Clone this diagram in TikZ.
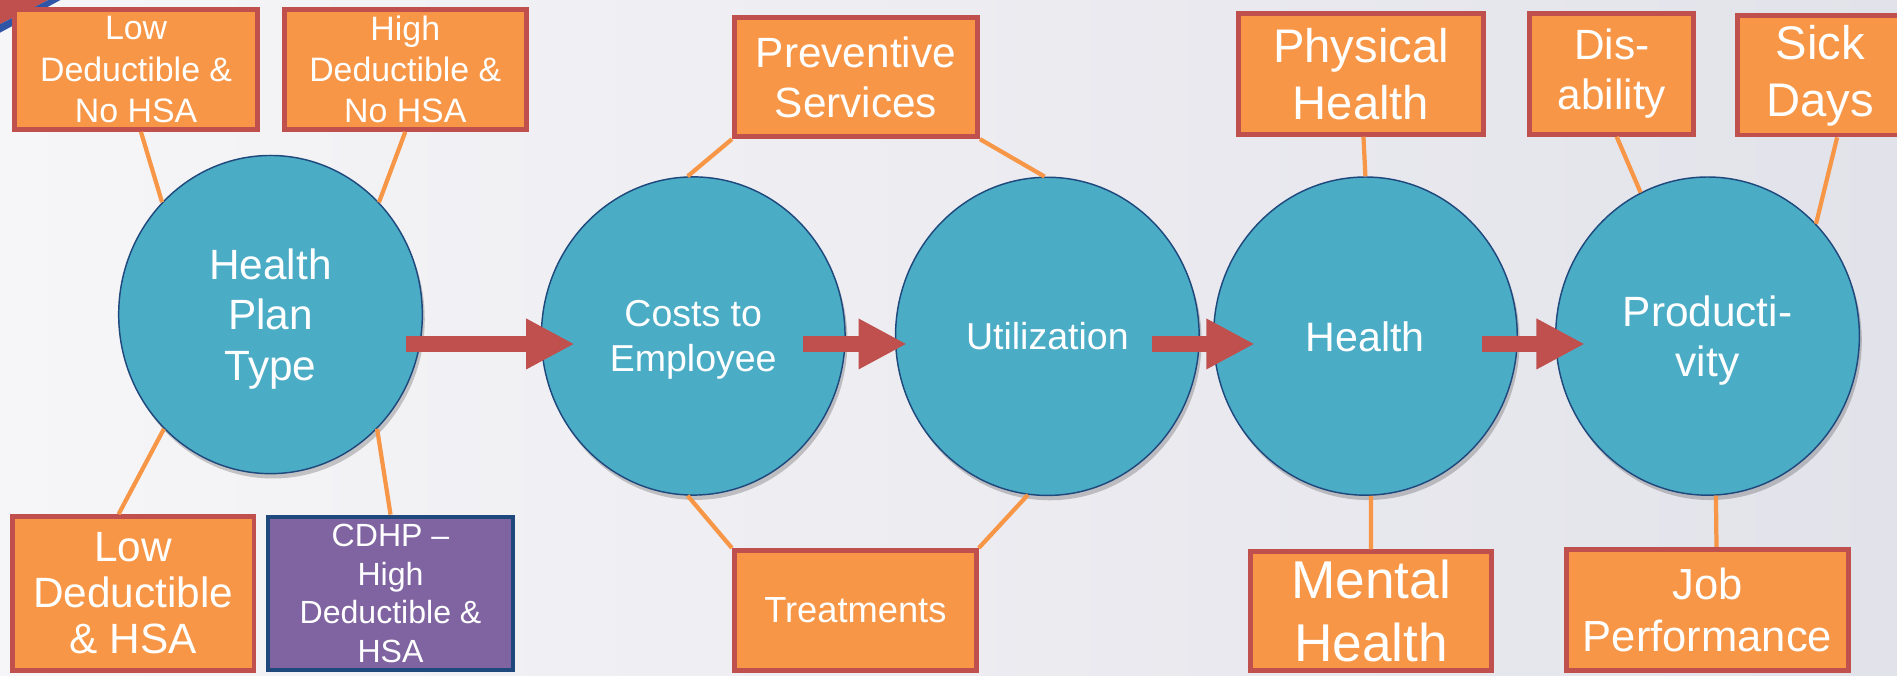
\documentclass[tikz,border=0pt]{standalone}
\usepackage{fontspec}
\setmainfont{Liberation Sans}
\usetikzlibrary{shapes.geometric,arrows.meta,shadows,calc}

\definecolor{aqua}{HTML}{4BACC6}
\definecolor{navy}{HTML}{1F497D}
\definecolor{tang}{HTML}{F79646}
\definecolor{brick}{HTML}{C0504D}
\definecolor{plum}{HTML}{8064A2}
\definecolor{ribbon}{HTML}{2F56A6}
\definecolor{bgleft}{HTML}{F6F6F8}
\definecolor{bgright}{HTML}{E2E2EA}

\begin{document}
\begin{tikzpicture}
    [
      x=1pt, y=-1pt,
      stage/.style={ellipse, draw=navy, line width=1.2pt, fill=aqua, text=white,
        minimum width=251pt, minimum height=263pt, inner sep=0pt, align=center, text depth=0pt,
        drop shadow={shadow xshift=2pt, shadow yshift=-4pt, opacity=.2, fill=black}},
      factor/.style={rectangle, draw=brick, line width=4pt, fill=tang, text=white,
        inner sep=0pt, align=center},
      link/.style={draw=tang, line width=3.5pt},
      bigarrow/.style={draw=brick, line width=13pt, -{Triangle[length=40pt,width=39pt]}},
    ]
    %
    \clip (0,0) rectangle (1568,558);
    \shade [left color=bgleft, right color=bgright] (0,0) rectangle (1568,558);
    \fill [brick] (0,0) -- (40,0) -- (0,20) -- cycle;
    \fill [ribbon] (0,20) -- (40,0) -- (50,0) -- (0,27) -- cycle;

    % stages
    \node [stage, font={\fontsize{35}{42}\selectfont}] (plan) at (223.6,260) {Health\\Plan\\Type};
    \node [stage, font={\fontsize{31}{37}\selectfont}] (cost) at (573,277.7) {Costs to\\Employee};
    \node [stage, font={\fontsize{31}{37}\selectfont}] (util) at (865.7,278) {Utilization};
    \node [stage, font={\fontsize{34}{41}\selectfont}] (hlth) at (1128.6,277.8) {Health};
    \node [stage, font={\fontsize{35}{41}\selectfont}] (prod) at (1411.4,277.8) {Producti-\\vity};

    % factors
    \node [factor, minimum width=201, minimum height=99, font={\fontsize{28}{34}\selectfont}]
      (lnh) at (112.5,57.5) {Low\\Deductible \&\\No HSA};
    \node [factor, minimum width=200, minimum height=99, font={\fontsize{28}{34}\selectfont}]
      (hnh) at (335,57.5) {High\\Deductible \&\\No HSA};
    \node [factor, minimum width=200, minimum height=127, font={\fontsize{35}{38}\selectfont}]
      (lh) at (110,490.5) {Low\\Deductible\\\& HSA};
    \node [factor, draw=navy, fill=plum, line width=3.3pt, minimum width=202, minimum height=127,
      font={\fontsize{26.5}{32}\selectfont}]
      (cdhp) at (322.8,490.5) {CDHP –\\High\\Deductible \&\\HSA};
    \node [factor, minimum width=201, minimum height=98.5, font={\fontsize{35}{41}\selectfont}]
      (prev) at (707.5,63.75) {Preventive\\Services};
    \node [factor, minimum width=200, minimum height=99, font={\fontsize{30}{36}\selectfont}]
      (trt) at (707,504.5) {Treatments};
    \node [factor, minimum width=202, minimum height=100, font={\fontsize{39}{47}\selectfont}]
      (phys) at (1125,61) {Physical\\Health};
    \node [factor, minimum width=199.5, minimum height=98, font={\fontsize{44}{52}\selectfont}]
      (ment) at (1133.3,505) {Mental\\Health};
    \node [factor, minimum width=135.5, minimum height=100, font={\fontsize{35}{41}\selectfont}]
      (dis) at (1332.3,61) {Dis-\\ability};
    \node [factor, minimum width=137, minimum height=98.5, font={\fontsize{39}{47}\selectfont}]
      (sick) at (1504.5,62.3) {Sick\\Days};
    \node [factor, minimum width=233.5, minimum height=100, font={\fontsize{36}{43}\selectfont}]
      (job) at (1411.3,504) {Job\\Performance};

    % links
    \draw [link] ([xshift=4]lnh.south) -- (plan.134);
    \draw [link] (hnh.south) -- (plan.46);
    \draw [link] ([xshift=-12]lh.north) -- (plan.227);
    \draw [link] (cdhp.north) -- (plan.313);
    \draw [link] (prev.south west) -- (cost.92);
    \draw [link] (prev.south east) -- (util.91);
    \draw [link] (trt.north west) -- (cost.268);
    \draw [link] (trt.north east) -- (util.263);
    \draw [link] ([xshift=2]phys.south) -- (hlth.north);
    \draw [link] (ment.north) -- (hlth.272);
    \draw [link] ([xshift=4]dis.south) -- (prod.115);
    \draw [link] ([xshift=14]sick.south) -- (prod.46);
    \draw [link] ([xshift=7.5]job.north) -- (prod.273);

    % flow
    \coordinate (lane) at (0,284.3);
    \draw [bigarrow] ($(plan.east |- lane)+(-14,0)$) -- ($(cost.west |- lane)+(28,0)$);
    \draw [bigarrow] ($(cost.east |- lane)+(-35,0)$) -- ($(util.west |- lane)+(10,0)$);
    \draw [bigarrow] ($(util.east |- lane)+(-39.5,0)$) -- ($(hlth.west |- lane)+(34.6,0)$);
    \draw [bigarrow] ($(hlth.east |- lane)+(-30,0)$) -- ($(prod.west |- lane)+(24.7,0)$);
  \end{tikzpicture}
\end{document}
